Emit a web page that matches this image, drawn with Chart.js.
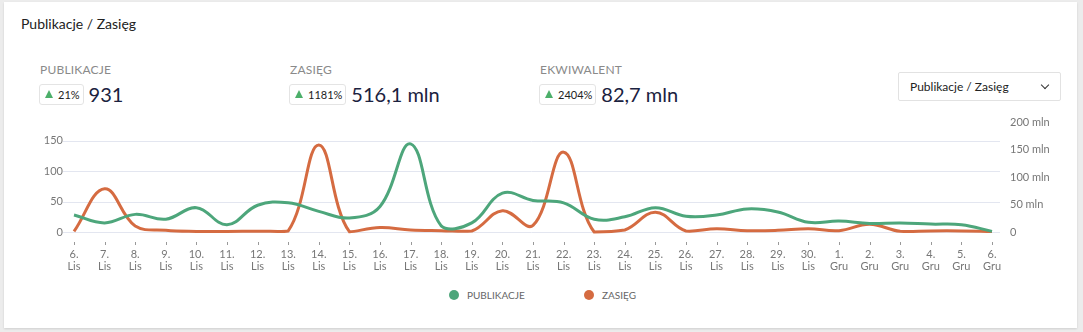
<!DOCTYPE html>
<html lang="pl">

<head>
    <meta charset="UTF-8">
    <title>Publikacje / Zasięg</title>
    <script src="https://cdn.jsdelivr.net/npm/chart.js"></script>
    <style>
        body { margin: 0; background: #ececec; font-family: Lato, "Open Sans", sans-serif; }
        .card { position: absolute; left: 4px; top: 2px; width: 1073px; height: 326px; background: #fff; box-shadow: 0 1px 2px rgba(0,0,0,0.12); }
        .title { position: absolute; left: 17px; top: 13px; font-size: 14px; color: #222; }
        .kpi { position: absolute; top: 60px; }
        .kpi .lbl { font-size: 12px; color: #8a8a8a; letter-spacing: 0.2px; margin-left: 1px; }
        .kpi .row { display: flex; align-items: center; margin-top: 5px; }
        .badge { border: 1px solid #e4e4e4; border-radius: 3px; height: 19px; padding: 0 3px 0 5px; display: flex; align-items: center; font-size: 11px; color: #222; }
        .tri { width: 0; height: 0; border-left: 4px solid transparent; border-right: 4px solid transparent; border-bottom: 8px solid #4caf6a; margin-right: 5px; }
        .val { font-size: 20px; color: #1b2240; margin-left: 5px; }
        .select { position: absolute; left: 894px; top: 70px; width: 150px; height: 27px; border: 1px solid #e2e2e2; border-radius: 2px; font-size: 12px; color: #222; line-height: 27px; padding-left: 11px; box-sizing: content-box; }
        .select .chev { position: absolute; right: 12px; top: 9px; width: 5px; height: 5px; border-right: 1.5px solid #333; border-bottom: 1.5px solid #333; transform: rotate(45deg); }
        .chartbox { position: absolute; left: -4px; top: 96px; width: 1083px; height: 182px; }
        .legend { position: absolute; top: 287px; left: 0; width: 100%; font-size: 10px; color: #666; }
        .legend span { position: absolute; display: flex; align-items: center; }
        .legend i { width: 10px; height: 10px; border-radius: 50%; margin-right: 8px; }
    </style>
</head>

<body>
    <div class="card">
        <div class="title">Publikacje / Zasięg</div>
        <div class="kpi" style="left:35px"><div class="lbl">PUBLIKACJE</div><div class="row"><div class="badge"><div class="tri"></div>21%</div><div class="val">931</div></div></div>
        <div class="kpi" style="left:285px"><div class="lbl">ZASIĘG</div><div class="row"><div class="badge"><div class="tri"></div>1181%</div><div class="val">516,1 mln</div></div></div>
        <div class="kpi" style="left:535px"><div class="lbl">EKWIWALENT</div><div class="row"><div class="badge"><div class="tri"></div>2404%</div><div class="val">82,7 mln</div></div></div>
        <div class="select">Publikacje / Zasięg<div class="chev"></div></div>
        <div class="chartbox"><canvas id="chart"></canvas></div>
        <div class="legend" id="legend"></div>
    </div>

    <script>
        // Dates: 6 Lis .. 6 Gru
        const days = [6, 7, 8, 9, 10, 11, 12, 13, 14, 15, 16, 17, 18, 19, 20, 21, 22, 23, 24, 25, 26, 27, 28, 29, 30, 1, 2, 3, 4, 5, 6];
        const months = ['Lis', 'Lis', 'Lis', 'Lis', 'Lis', 'Lis', 'Lis', 'Lis', 'Lis', 'Lis', 'Lis', 'Lis', 'Lis', 'Lis', 'Lis', 'Lis', 'Lis', 'Lis', 'Lis', 'Lis', 'Lis', 'Lis', 'Lis', 'Lis', 'Lis', 'Gru', 'Gru', 'Gru', 'Gru', 'Gru', 'Gru'];

        const publikacje = [28, 15, 29, 21, 40, 12, 44, 48, 34, 23, 42, 145, 10, 15, 64, 52, 48, 21, 25, 40, 26, 28, 38, 33, 16, 18, 14, 15, 13, 12, 1];
        // ZASIĘG in mln
        const zasieg = [1, 79, 11, 3, 1, 1, 1.5, 2, 159, 0.5, 8, 3.5, 2.4, 1.8, 39, 12, 146, 0, 3.6, 36, 1.8, 6, 2.4, 3, 6, 2.4, 14, 1.2, 2, 2, 1];

        const leftTicks = [0, 50, 100, 150];
        const rightTicks = [0, 50, 100, 150, 200];

        const seriesNames = ['PUBLIKACJE', 'ZASIĘG'];
        const seriesColors = ['#4da67b', '#d56b41'];

        const labels = days.map((d, i) => [d + '.', months[i]]);

        // grid lines a bit wider than the plot, plus small x tick marks under the axis
        const gridPlugin = {
            id: 'grid',
            beforeDatasetsDraw(chart) {
                const ctx = chart.ctx;
                const y = chart.scales.y;
                const x = chart.scales.x;
                const area = chart.chartArea;
                ctx.save();
                ctx.strokeStyle = '#e3e6f0';
                ctx.lineWidth = 1;
                leftTicks.forEach(v => {
                    const py = Math.round(y.getPixelForValue(v)) + 0.5;
                    ctx.beginPath();
                    ctx.moveTo(area.left - 11, py);
                    ctx.lineTo(area.right + 8, py);
                    ctx.stroke();
                });
                ctx.strokeStyle = '#999';
                labels.forEach((l, i) => {
                    const px = Math.round(x.getPixelForTick(i)) + 0.5;
                    ctx.beginPath();
                    ctx.moveTo(px, area.bottom + 10);
                    ctx.lineTo(px, area.bottom + 13);
                    ctx.stroke();
                });
                ctx.restore();
            }
        };

        const ctx = document.getElementById('chart').getContext('2d');
        const chart = new Chart(ctx, {
            type: 'line',
            data: {
                labels: labels,
                datasets: [{
                    label: seriesNames[0],
                    data: publikacje,
                    yAxisID: 'y',
                    borderColor: seriesColors[0],
                    backgroundColor: seriesColors[0],
                    borderWidth: 3,
                    pointRadius: 0,
                    tension: 0.4,
                    clip: 10
                }, {
                    label: seriesNames[1],
                    data: zasieg,
                    yAxisID: 'y1',
                    borderColor: seriesColors[1],
                    backgroundColor: seriesColors[1],
                    borderWidth: 3,
                    pointRadius: 0,
                    tension: 0.4,
                    clip: 10
                }]
            },
            options: {
                responsive: true,
                maintainAspectRatio: false,
                animation: false,
                layout: { padding: 0 },
                plugins: {
                    legend: { display: false },
                    tooltip: { enabled: false }
                },
                scales: {
                    x: {
                        grid: { display: false, drawTicks: false },
                        border: { display: false },
                        ticks: {
                            color: '#777',
                            font: { family: 'Lato', size: 11, lineHeight: 1.05 },
                            padding: 17,
                            maxRotation: 0,
                            autoSkip: false
                        },
                        afterFit: s => { s.height = 48; }
                    },
                    y: {
                        position: 'left',
                        min: 0,
                        max: 180,
                        grid: { display: false, drawTicks: false },
                        border: { display: false },
                        afterBuildTicks: s => { s.ticks = leftTicks.map(v => ({ value: v })); },
                        ticks: {
                            color: '#777',
                            font: { family: 'Lato', size: 11 },
                            padding: 11
                        },
                        afterFit: s => { s.width = 74; }
                    },
                    y1: {
                        position: 'right',
                        min: 0,
                        max: 200,
                        grid: { display: false, drawTicks: false },
                        border: { display: false },
                        afterBuildTicks: s => { s.ticks = rightTicks.map(v => ({ value: v })); },
                        ticks: {
                            color: '#777',
                            font: { family: 'Lato', size: 11 },
                            padding: 18,
                            callback: v => v === 0 ? '0' : v + ' mln'
                        },
                        afterFit: s => { s.width = 91; }
                    }
                }
            },
            plugins: [gridPlugin]
        });

        // legend from the datasets
        const legendPos = [445, 580];
        const legend = document.getElementById('legend');
        chart.data.datasets.forEach((ds, i) => {
            const s = document.createElement('span');
            s.style.left = legendPos[i] + 'px';
            s.innerHTML = '<i style="background:' + ds.borderColor + '"></i>' + ds.label;
            legend.appendChild(s);
        });
    </script>
</body>

</html>
